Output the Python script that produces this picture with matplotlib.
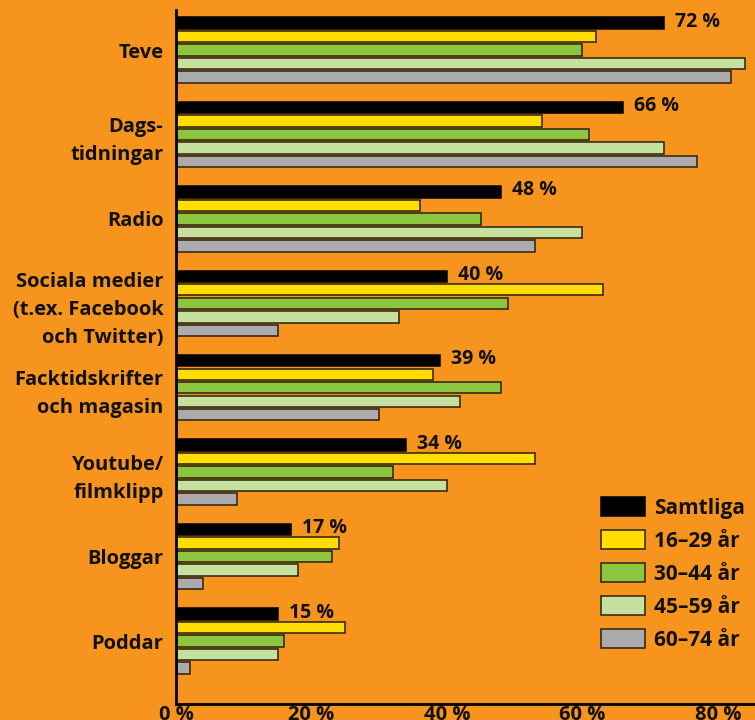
import matplotlib.pyplot as plt
import numpy as np

categories = ["Teve", "Dags-\ntidningar", "Radio",
              "Sociala medier\n(t.ex. Facebook\noch Twitter)",
              "Facktidskrifter\noch magasin", "Youtube/\nfilmklipp",
              "Bloggar", "Poddar"]
series_names = ["Samtliga", "16–29 år", "30–44 år", "45–59 år", "60–74 år"]
samtliga = [72, 66, 48, 40, 39, 34, 17, 15]
age_16_29 = [62, 54, 36, 63, 38, 53, 24, 25]
age_30_44 = [60, 61, 45, 49, 48, 32, 23, 16]
age_45_59 = [84, 72, 60, 33, 42, 40, 18, 15]
age_60_74 = [82, 77, 53, 15, 30, 9, 4, 2]
xticks = [0, 20, 40, 60, 80]
xtick_labels = ["0 %", "20 %", "40 %", "60 %", "80 %"]

colors = ["#000000", "#FFDD00", "#8CC63F", "#C6E09E", "#ABABAE"]
bg = "#F7941E"

plt.rcParams['font.family'] = ['Open Sans', 'DejaVu Sans']

fig = plt.figure(figsize=(7.55, 7.2), dpi=100, facecolor=bg)
ax = fig.add_axes([176 / 755, 16 / 720, 1 - 176 / 755, 694 / 720])
ax.set_facecolor(bg)

all_series = [samtliga, age_16_29, age_30_44, age_45_59, age_60_74]
y = np.arange(len(categories))
step = 0.16
height = 0.135
for k, (vals, name, c) in enumerate(zip(all_series, series_names, colors)):
    ec = "#000000" if k == 0 else "#2a2010"
    ax.barh(y + (k - 2) * step, vals, height=height, color=c,
            edgecolor=ec, linewidth=1.1, label=name)

for i, v in enumerate(samtliga):
    ax.annotate(f"{v} %", (v, y[i] - 2 * step), xytext=(8, 1),
                textcoords="offset points", ha="left", va="center",
                fontsize=14, fontweight="bold", color="#111111")

ax.set_xlim(0, 85.5)
ax.set_ylim(7.746, -0.474)
ax.set_xticks(xticks)
ax.set_xticklabels(xtick_labels, fontsize=14.5, fontweight="bold", color="#111111")
ax.set_yticks(y)
ax.set_yticklabels(categories, fontsize=14.5, fontweight="bold", color="#111111",
                   linespacing=1.55)
ax.tick_params(axis="both", length=0)
ax.tick_params(axis="x", pad=1)
ax.tick_params(axis="y", pad=9)

ax.spines['right'].set_color('none')
ax.spines['top'].set_color('none')
ax.spines['left'].set_linewidth(2)
ax.spines['bottom'].set_linewidth(2)

leg = ax.legend(loc="lower right", bbox_to_anchor=(1.015, 0.05), frameon=False,
                handlelength=2.1, handleheight=1.0,
                labelspacing=0.55, handletextpad=0.45,
                prop={"weight": "bold", "size": 15})
for t in leg.get_texts():
    t.set_color("#111111")

fig.savefig("out.png", dpi=100, facecolor=bg)
